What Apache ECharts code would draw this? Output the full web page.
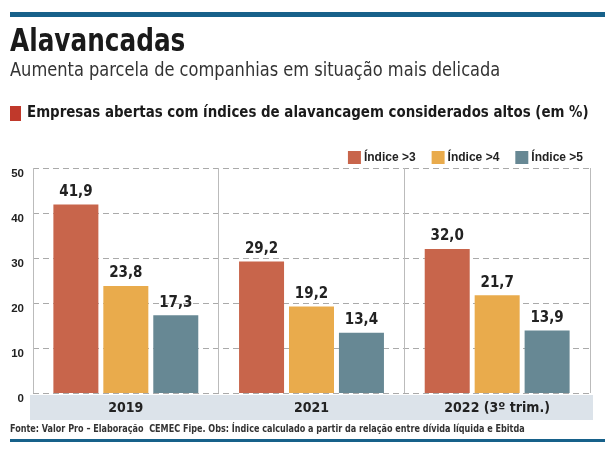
<!DOCTYPE html>
<html>
<head>
<meta charset="utf-8">
<script src="https://cdn.jsdelivr.net/npm/echarts@6/dist/echarts.min.js"></script>
<style>
html,body{margin:0;padding:0;background:#fff;}
#c{width:614px;height:452px;}
</style>
</head>
<body>
<div id="c"></div>
<script>
var categories = ['2019', '2021', '2022 (3º trim.)'];
var seriesNames = ['Índice >3', 'Índice >4', 'Índice >5'];
var indice3 = [41.9, 29.2, 32.0];
var indice4 = [23.8, 19.2, 21.7];
var indice5 = [17.3, 13.4, 13.9];
var yTicks = [0, 10, 20, 30, 40, 50];

var FONT = "'DejaVu Sans Condensed', sans-serif";
var FONT2 = "'Liberation Sans', Arial, sans-serif";
var colors = ['#c8654b', '#e9ab4c', '#678894'];

function fmt(p) { return p.value.toFixed(1).replace('.', ','); }

function mkSeries(name, data, color) {
  return {
    name: name, type: 'bar', data: data, barWidth: 45, barGap: '11%',
    itemStyle: { color: color },
    label: { show: true, position: 'top', distance: 5, formatter: fmt,
      fontFamily: FONT, fontWeight: 'bold', fontSize: 15, color: '#222' }
  };
}

var chart = echarts.init(document.getElementById('c'));
chart.setOption({
  animation: false,
  color: colors,
  graphic: [
    { type: 'rect', shape: { x: 10, y: 12, width: 595, height: 5 }, style: { fill: '#17618a' } },
    { type: 'text', x: 10, y: 27, scaleX: 0.86, style: { text: 'Alavancadas', fontFamily: FONT, fontWeight: 'bold', fontSize: 32, fill: '#1a1a1a' } },
    { type: 'text', x: 10, y: 61, scaleX: 0.903, style: { text: 'Aumenta parcela de companhias em situação mais delicada', fontFamily: FONT, fontSize: 20, fill: '#333' } },
    { type: 'rect', shape: { x: 10, y: 106, width: 11, height: 15 }, style: { fill: '#c0392b' } },
    { type: 'text', x: 27, y: 105, scaleX: 0.93, style: { text: 'Empresas abertas com índices de alavancagem considerados altos (em %)', fontFamily: FONT, fontWeight: 'bold', fontSize: 16, fill: '#1a1a1a' } },
    { type: 'rect', z: -1, shape: { x: 30, y: 395, width: 563, height: 25 }, style: { fill: '#dce3ea' } },
    { type: 'text', x: 10, y: 424, scaleX: 0.855, style: { text: 'Fonte: Valor Pro – Elaboração  CEMEC Fipe. Obs: Índice calculado a partir da relação entre dívida líquida e Ebitda', fontFamily: FONT, fontWeight: 'bold', fontSize: 10.5, fill: '#333' } },
    { type: 'rect', shape: { x: 10, y: 439, width: 595, height: 3 }, style: { fill: '#17618a' } }
  ],
  legend: {
    right: 26, top: 146, itemWidth: 13, itemHeight: 13, itemGap: 16, icon: 'rect',
    data: seriesNames,
    textStyle: { fontFamily: FONT2, fontWeight: 'bold', fontSize: 12, color: '#222', padding: [0, 0, 0, -2] }
  },
  grid: { left: 33, right: 24, top: 168, bottom: 59 },
  xAxis: {
    type: 'category', data: categories,
    axisLine: { show: false }, axisTick: { show: false },
    splitLine: { show: true, lineStyle: { color: '#bbb', width: 1 } },
    axisLabel: { margin: 8, fontFamily: FONT, fontWeight: 'bold', fontSize: 14, color: '#222' }
  },
  yAxis: {
    type: 'value', min: 0, max: 50, interval: 10,
    axisLine: { show: false }, axisTick: { show: false },
    splitLine: { show: true, lineStyle: { color: '#aaa', type: [6, 4], width: 1 } },
    axisLabel: { margin: 9, verticalAlign: 'top', fontFamily: FONT2, fontWeight: 'bold', fontSize: 11.5, color: '#222',
      formatter: function (v) { return yTicks.indexOf(v) >= 0 ? String(v) : ''; } }
  },
  series: [
    mkSeries(seriesNames[0], indice3, colors[0]),
    mkSeries(seriesNames[1], indice4, colors[1]),
    mkSeries(seriesNames[2], indice5, colors[2])
  ]
});
</script>
</body>
</html>
